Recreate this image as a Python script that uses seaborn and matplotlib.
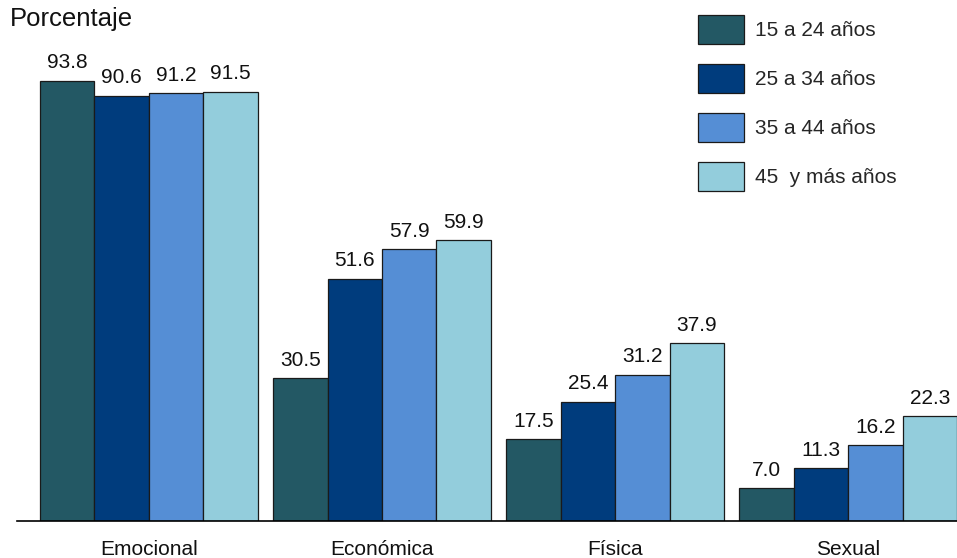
import pandas as pd
import matplotlib
matplotlib.use("Agg")
import matplotlib.pyplot as plt
import seaborn as sns

# Datos
tipos = ["Emocional", "Económica", "Física", "Sexual"]
edades = ["15 a 24 años", "25 a 34 años", "35 a 44 años", "45  y más años"]
v_15_24 = [93.8, 30.5, 17.5, 7.0]
v_25_34 = [90.6, 51.6, 25.4, 11.3]
v_35_44 = [91.2, 57.9, 31.2, 16.2]
v_45_mas = [91.5, 59.9, 37.9, 22.3]
colores = ["#235864", "#003C7D", "#558ED5", "#93CDDC"]

series = [v_15_24, v_25_34, v_35_44, v_45_mas]
rows = []
for edad, vals in zip(edades, series):
    for tipo, v in zip(tipos, vals):
        rows.append({"tipo": tipo, "edad": edad, "pct": v})
df = pd.DataFrame(rows)

sns.set_theme(style="white")
plt.rcParams["font.family"] = ["Liberation Sans", "DejaVu Sans"]

fig = plt.figure(figsize=(9.57, 5.58), dpi=100)
ax = fig.add_axes([17 / 957, 37 / 558, 940 / 957, 521 / 558])

sns.barplot(data=df, x="tipo", y="pct", hue="edad", order=tipos, hue_order=edades,
            palette=colores, saturation=1, width=0.935, edgecolor="#1a1a1a",
            linewidth=0.9, ax=ax)

for cont in ax.containers:
    ax.bar_label(cont, fmt="%.1f", padding=6, fontsize=15, color="#111111")

ax.set_ylim(0, 111)
ax.set_xlim(-0.566, 3.467)
ax.set_xlabel("")
ax.set_ylabel("")
ax.set_yticks([])
ax.tick_params(axis="x", length=0, pad=14, labelsize=15, colors="#111111")
for s in ["top", "right", "left"]:
    ax.spines[s].set_visible(False)
ax.spines["bottom"].set_color("black")
ax.spines["bottom"].set_linewidth(1.2)

# legend with big square-ish keys
ax.legend(title=None, frameon=False, loc="upper left",
          bbox_to_anchor=(698 / 957, 1 - 15 / 558), bbox_transform=fig.transFigure,
          borderaxespad=0, borderpad=0, fontsize=15, handlelength=2.2,
          handleheight=1.77, labelspacing=0.96, handletextpad=0.55)

fig.text(10 / 957, 1 - 7 / 558, "Porcentaje", fontsize=18.5, ha="left", va="top",
         color="#111111")

fig.savefig("out.png", dpi=100)
